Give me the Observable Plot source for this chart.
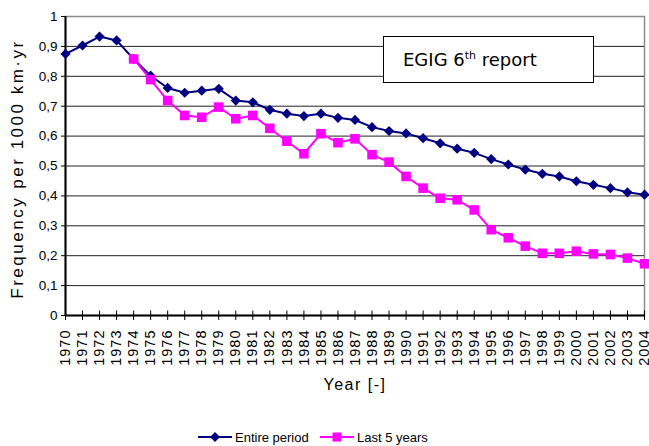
<!DOCTYPE html>
<html>
<head>
<meta charset="utf-8">
<script src="https://cdn.jsdelivr.net/npm/d3@7"></script>
<script src="https://cdn.jsdelivr.net/npm/@observablehq/plot@0.6"></script>
<style>
  body { margin: 0; background: #fff; }
  #wrap { position: relative; width: 649px; height: 446px; background: #fff; overflow: hidden; }
  #box { position: absolute; left: 383px; top: 36px; width: 190px; height: 45px; border: 1.5px solid #000; background: #fff;
         font-family: "DejaVu Sans", sans-serif; font-size: 18px; line-height: 45px; padding-left: 19px; box-sizing: content-box; white-space: nowrap; color: #000; }
  #box sup { font-size: 11px; vertical-align: 0; position: relative; top: -7px; }
  #legend { position: absolute; top: 428px; left: 0; width: 649px; height: 18px; font-family: "Liberation Sans", Arial, sans-serif; font-size: 13px; color: #000; }
  #legend .item { position: absolute; top: 0; display: flex; align-items: center; height: 18px; }
  #legend svg { display: block; }
  g[aria-label="x-axis tick label"] text { letter-spacing: 1px; }
</style>
</head>
<body>
<div id="wrap">
  <div id="chart"></div>
  <div id="box">EGIG 6<sup>th</sup> report</div>
  <div id="legend">
    <div class="item" style="left:198px;">
      <svg width="34" height="14"><line x1="0" y1="7" x2="34" y2="7" stroke="#000080" stroke-width="2"/><path d="M17,2 L22,7 L17,12 L12,7 Z" fill="#000080"/></svg>
      <span style="margin-left:3px;">Entire period</span>
    </div>
    <div class="item" style="left:320px;">
      <svg width="34" height="14"><line x1="0" y1="7" x2="34" y2="7" stroke="#FF00FF" stroke-width="2"/><rect x="12.5" y="2.5" width="9" height="9" fill="#FF00FF"/></svg>
      <span style="margin-left:3px;">Last 5 years</span>
    </div>
  </div>
</div>
<script>
const years = [1970,1971,1972,1973,1974,1975,1976,1977,1978,1979,1980,1981,1982,1983,1984,1985,1986,1987,1988,1989,1990,1991,1992,1993,1994,1995,1996,1997,1998,1999,2000,2001,2002,2003,2004];
const entirePeriod = [0.875,0.903,0.933,0.920,0.858,0.802,0.761,0.745,0.752,0.758,0.719,0.713,0.688,0.675,0.667,0.675,0.661,0.654,0.630,0.617,0.609,0.593,0.576,0.558,0.544,0.523,0.505,0.488,0.474,0.465,0.449,0.437,0.426,0.412,0.404];
const last5Years = [1974,1975,1976,1977,1978,1979,1980,1981,1982,1983,1984,1985,1986,1987,1988,1989,1990,1991,1992,1993,1994,1995,1996,1997,1998,1999,2000,2001,2002,2003,2004];
const last5Values = [0.858,0.789,0.719,0.669,0.663,0.697,0.658,0.669,0.626,0.583,0.541,0.608,0.578,0.591,0.538,0.513,0.465,0.426,0.392,0.387,0.353,0.287,0.260,0.232,0.208,0.208,0.215,0.206,0.204,0.192,0.173];
const yTicks = [0,0.1,0.2,0.3,0.4,0.5,0.6,0.7,0.8,0.9,1];
const gridLines = [0.1,0.2,0.3,0.4,0.5,0.6,0.7,0.8,0.9];
const yTitle = "Frequency per 1000 km·yr";
const xTitle = "Year [-]";

const entire = years.map((y, i) => ({year: y, value: entirePeriod[i]}));
const last5 = last5Years.map((y, i) => ({year: y, value: last5Values[i]}));
const fmtY = d => d === 0 ? "0" : d === 1 ? "1" : d3.format(".1f")(d).replace(".", ",");

const chart = Plot.plot({
  width: 649,
  height: 420,
  marginLeft: 65,
  marginRight: 5,
  marginTop: 16,
  marginBottom: 105,
  style: {fontFamily: "Liberation Sans, Arial, sans-serif", fontSize: "13px", background: "#fff", color: "#000"},
  x: {type: "linear", domain: [1970, 2004]},
  y: {domain: [0, 1]},
  marks: [
    Plot.frame({stroke: "#8c8c8c", strokeWidth: 1.5}),
    Plot.ruleY(gridLines, {stroke: "#222", strokeWidth: 1}),
    Plot.axisY({ticks: yTicks, tickFormat: fmtY, tickSize: 4, tickPadding: 4, fontSize: 13.5, label: null}),
    Plot.axisX({ticks: years, tickFormat: d => String(d), tickRotate: -90, tickSize: 5, tickPadding: 9, fontSize: 14.5, label: null}),
    Plot.ruleX(years, {y1: 0, y2: 0.015, stroke: "#000", strokeWidth: 1}),
    Plot.ruleY([0], {stroke: "#000", strokeWidth: 2}),
    Plot.ruleX([1970], {stroke: "#000", strokeWidth: 2}),
    Plot.text([yTitle], {frameAnchor: "left", textAnchor: "middle", rotate: -90, dx: -48, dy: 3, fontSize: 17, fill: "#000"}),
    Plot.text([xTitle], {frameAnchor: "bottom", textAnchor: "middle", dx: 0, dy: 74, fontSize: 16, fill: "#000"}),
    Plot.line(entire, {x: "year", y: "value", stroke: "#000080", strokeWidth: 2}),
    Plot.dot(entire, {x: "year", y: "value", symbol: "diamond2", r: 4.6, fill: "#000080", stroke: null}),
    Plot.line(last5, {x: "year", y: "value", stroke: "#FF00FF", strokeWidth: 2}),
    Plot.dot(last5, {x: "year", y: "value", symbol: "square", r: 5.4, fill: "#FF00FF", stroke: null})
  ]
});
d3.select(chart).selectAll("text").each(function() {
  if (this.textContent === yTitle) d3.select(this).style("letter-spacing", "2.5px");
  if (this.textContent === xTitle) d3.select(this).style("letter-spacing", "1.5px");
});
document.getElementById("chart").appendChild(chart);
</script>
</body>
</html>
